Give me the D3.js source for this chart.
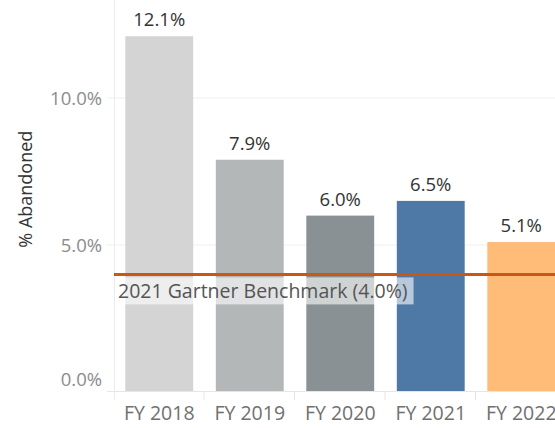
<!DOCTYPE html>
<html>
<head>
<meta charset="utf-8">
<script src="https://cdn.jsdelivr.net/npm/d3@7"></script>
<style>
  body { margin: 0; background: #fff; }
  svg text { font-family: "Open Sans", "DejaVu Sans", sans-serif; }
</style>
</head>
<body>
<div id="chart"></div>
<script>
const years = ['FY 2018', 'FY 2019', 'FY 2020', 'FY 2021', 'FY 2022'];
const abandoned = [12.1, 7.9, 6.0, 6.5, 5.1];
const barColors = ['#d4d4d4', '#b3b7b8', '#8a9194', '#4e79a7', '#ffbb78'];
const yTicks = [0, 5, 10];
const benchmark = 4.0;
const benchmarkLabel = '2021 Gartner Benchmark (4.0%)';

const width = 555, height = 428;
const margin = {top: 36, left: 114, bottom: 36};

const svg = d3.select('#chart').append('svg')
    .attr('width', width)
    .attr('height', height);

// x extends past the right edge, like the cropped original
const x = d3.scaleBand()
    .domain(years)
    .range([margin.left, margin.left + 5 * 90.5])
    .paddingInner(0.25)
    .paddingOuter(0.125);

const y = d3.scaleLinear()
    .domain([0, 12.1])
    .range([392, 392 - 12.1 * 29.4]);

// gridlines
svg.append('g')
  .selectAll('line')
  .data(yTicks.filter(d => d > 0))
  .join('line')
    .attr('x1', 107).attr('x2', width)
    .attr('y1', d => y(d)).attr('y2', d => y(d))
    .attr('stroke', '#efefef').attr('stroke-width', 1);

// y tick labels (the zero label sits above the baseline, tableau style)
svg.append('g')
  .selectAll('text')
  .data(yTicks)
  .join('text')
    .attr('x', 102)
    .attr('y', d => d === 0 ? y(d) - 12 : y(d) + 1)
    .attr('dy', '0.35em')
    .attr('text-anchor', 'end')
    .attr('fill', '#8c8c8c')
    .attr('font-size', 18.5)
    .text(d => d3.format('.1f')(d) + '%');

// y title
svg.append('text')
    .attr('transform', `translate(32,${(y(0) + y(12.1)) / 2 - 25}) rotate(-90)`)
    .attr('text-anchor', 'middle')
    .attr('fill', '#333')
    .attr('font-size', 18)
    .text('% Abandoned');

// bars
svg.append('g')
  .selectAll('rect')
  .data(abandoned)
  .join('rect')
    .attr('x', (d, i) => x(years[i]))
    .attr('y', d => y(d))
    .attr('width', x.bandwidth())
    .attr('height', d => y(0) - y(d))
    .attr('fill', (d, i) => barColors[i]);

// value labels
svg.append('g')
  .selectAll('text')
  .data(abandoned)
  .join('text')
    .attr('x', (d, i) => x(years[i]) + x.bandwidth() / 2)
    .attr('y', d => y(d) - 10)
    .attr('text-anchor', 'middle')
    .attr('fill', '#333')
    .attr('font-size', 18.5)
    .text(d => d3.format('.1f')(d) + '%');

// axis lines
svg.append('line')
    .attr('x1', 107).attr('x2', width)
    .attr('y1', y(0) - 0.5).attr('y2', y(0) - 0.5)
    .attr('stroke', '#e6e6e6');
svg.append('line')
    .attr('x1', margin.left + 0.5).attr('x2', margin.left + 0.5)
    .attr('y1', 0).attr('y2', y(0) + 8)
    .attr('stroke', '#ececec');

// column separators below the baseline
const step = x.step();
svg.append('g')
  .selectAll('line')
  .data(years.slice(1))
  .join('line')
    .attr('x1', d => x(d) - step * 0.125 - 0.5)
    .attr('x2', d => x(d) - step * 0.125 - 0.5)
    .attr('y1', y(0)).attr('y2', y(0) + 8)
    .attr('stroke', '#e6e6e6');

// x labels
svg.append('g')
  .selectAll('text')
  .data(years)
  .join('text')
    .attr('x', d => x(d) + x.bandwidth() / 2)
    .attr('y', 420)
    .attr('text-anchor', 'middle')
    .attr('fill', '#707070')
    .attr('font-size', 19.5)
    .text(d => d);

// benchmark reference line
svg.append('line')
    .attr('x1', margin.left).attr('x2', width)
    .attr('y1', y(benchmark)).attr('y2', y(benchmark))
    .attr('stroke', '#cc5712')
    .attr('stroke-width', 3);

const lbl = svg.append('g');
const box = lbl.append('rect')
    .attr('fill', '#fff')
    .attr('fill-opacity', 0.6);
const lblText = lbl.append('text')
    .attr('x', 118)
    .attr('y', y(benchmark) + 24)
    .attr('fill', '#555')
    .attr('font-size', 19.5)
    .text(benchmarkLabel);
const bb = lblText.node().getBBox();
box.attr('x', margin.left + 1)
    .attr('y', y(benchmark) + 3)
    .attr('width', bb.x + bb.width + 5 - margin.left)
    .attr('height', 27);
</script>
</body>
</html>
